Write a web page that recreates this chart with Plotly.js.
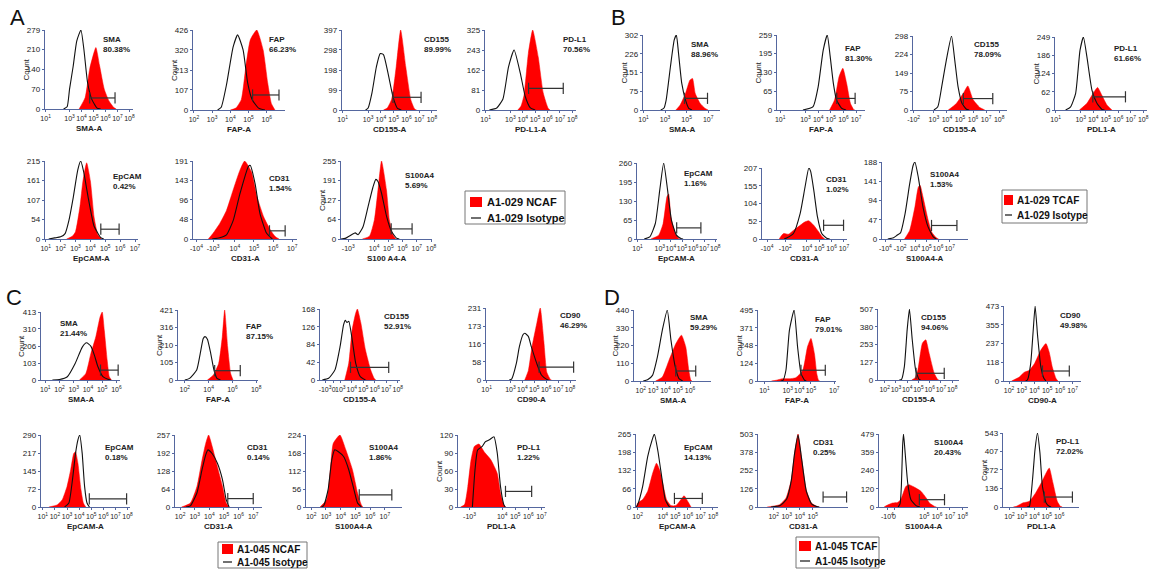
<!DOCTYPE html>
<html><head><meta charset="utf-8">
<script src="https://cdn.plot.ly/plotly-3.0.1.min.js"></script>
<style>html,body{margin:0;padding:0;background:#fff}#chart{width:1156px;height:571px}</style>
</head><body><div id="chart"></div>
<script>
// ---------------- DATA ----------------
// panel of each histogram (30 histograms: A1..A7, B1..B7, C1..C8, D1..D8)
const panelOf = ['A','A','A','A','A','A','A','B','B','B','B','B','B','B','C','C','C','C','C','C','C','C','D','D','D','D','D','D','D','D'];
const markers = ['SMA','FAP','CD155','PD-L1','EpCAM','CD31','S100A4',
  'SMA','FAP','CD155','PD-L1','EpCAM','CD31','S100A4',
  'SMA','FAP','CD155','CD90','EpCAM','CD31','S100A4','PD-L1',
  'SMA','FAP','CD155','CD90','EpCAM','CD31','S100A4','PD-L1'];
const percents = ['80.38%','66.23%','89.99%','70.56%','0.42%','1.54%','5.69%',
  '88.96%','81.30%','78.09%','61.66%','1.16%','1.02%','1.53%',
  '21.44%','87.15%','52.91%','46.29%','0.18%','0.14%','1.86%','1.22%',
  '59.29%','79.01%','94.06%','49.98%','14.13%','0.25%','20.43%','72.02%'];
const xTitles = ['SMA-A','FAP-A','CD155-A','PD-L1-A','EpCAM-A','CD31-A','S100 A4-A',
  'SMA-A','FAP-A','CD155-A','PDL1-A','EpCAM-A','CD31-A','S100A4-A',
  'SMA-A','FAP-A','CD155-A','CD90-A','EpCAM-A','CD31-A','S100A4-A','PDL1-A',
  'SMA-A','FAP-A','CD155-A','CD90-A','EpCAM-A','CD31-A','S100A4-A','PDL1-A'];
const yTicks = [[0,70,140,210,279],[0,107,213,320,426],[0,99,198,298,397],[0,81,162,243,325],[0,54,107,161,215],[0,48,96,143,191],[0,64,127,191,255],
  [0,75,151,226,302],[0,65,130,195,259],[0,75,149,224,298],[0,62,124,186,249],[0,65,130,195,260],[0,52,104,155,207],[0,47,94,141,188],
  [0,103,206,310,413],[0,105,210,316,421],[0,42,84,126,168],[0,58,116,173,231],[0,72,145,217,290],[0,64,128,192,257],[0,56,112,168,224],[0,30,60,90,120],
  [0,110,220,330,440],[0,124,248,371,495],[0,127,253,380,507],[0,118,237,355,473],[0,66,132,198,265],[0,126,252,378,503],[0,120,240,359,479],[0,136,272,407,543]];
// display scale (decades) shown on each x axis
const xRanges = [[0.95,8.3],[1.95,7.0],[0.95,8.4],[0.95,8.3],[0.95,7.2],[0,5.44],[0,6.4],
  [0.95,8.1],[0.75,7.7],[1.4,8.6],[0.95,8.3],[0.95,8.15],[0,6.9],[0,7.45],
  [0.7,6.25],[1.43,8.15],[0,6.95],[0.95,8.5],[0.85,8.2],[1.65,7.6],[1.65,8.16],[0,6.65],
  [1.45,7.7],[0.45,7.15],[1.41,8.6],[1.6,7.66],[1.87,8.4],[0.8,7.7],[0,6.97],[1.47,7.6]];
const xTickPos = [[1,3,4,5,6,7,8],[2,3,4,5,6],[1,3,4,5,6,7,8],[1,3,4,5,6,7,8],[1,2,3,4,5,6,7],[0.18,1.05,2.19,3.19,4.19,5.19],[0.51,2.33,3.33,4.33,5.33,6.33],
  [1,3,5,7],[1,3,4,5,6,7],[1.45,3,4,5,6,7,8],[1,3,4,5,6,7,8],[1,3,4,5,6,7,8],[0.41,1.89,3.65,4.65,5.65,6.65],[0.29,1.57,2.86,3.86,4.86,5.86],
  [1,2,3,4,5,6],[2,4,6,8],[0.44,1.18,1.76,2.76,3.76,4.76,5.76,6.76],[1,3,4,5,6,7,8],[1,2,3,4,5,6,7,8],[2,3,4,5,6,7],[2,3,4,5,6,7],[0.88,3.38,4.38,5.38,6.38],
  [2,3,4,5,6],[1,3,4,5,7],[2,3,4,5,6,7,8],[2,3,4,5,6,7],[2,4,5,6,7,8],[2,3,4,5],[0.66,1.18,3.55,4.55,5.55,6.55],[2,3,4,5,6]];
// tick labels; null = plain decades 10^n at the positions above
const xTickLab = [null,null,null,null,null,['-10^4','-10^3','10^4','10^5','10^6','10^7'],['-10^3','10^4','10^5','10^6','10^7','10^8'],
  null,null,['-10^2','10^3','10^4','10^5','10^6','10^7','10^8'],null,null,['-10^4','-10^2','10^4','10^5','10^6','10^7'],['-10^4','-10^2','10^4','10^5','10^6','10^7'],
  null,null,['-10^3','0','10^3','10^4','10^5','10^6','10^7','10^8'],null,null,null,null,['-10^3','10^4','10^5','10^6','10^7'],
  null,null,null,null,null,null,['-10^4','0','10^5','10^6','10^7','10^8'],null];
// sample histograms: [display position, count]
const redCurves = [
  [[3.8,0],[4.3,40],[4.7,145],[5.2,217],[5.5,155],[5.9,70],[6.3,28],[6.7,5],[6.9,0]],
  [[4.0,0],[4.3,10],[4.6,55],[4.85,230],[5.1,375],[5.45,426],[5.8,320],[6.05,145],[6.25,35],[6.45,0]],
  [[4.2,0],[4.5,10],[4.85,55],[5.2,215],[5.55,397],[5.95,215],[6.35,50],[6.65,5],[6.8,0]],
  [[3.6,0],[3.85,15],[4.1,60],[4.45,230],[4.8,325],[5.25,215],[5.65,70],[6.05,7],[6.2,0]],
  [[2.4,0],[2.8,8],[3.0,20],[3.3,90],[3.5,160],[3.75,210],[4.0,160],[4.25,60],[4.5,12],[4.75,0]],
  [[0.8,0],[1.05,14],[1.4,38],[1.75,70],[2.1,120],[2.45,168],[2.7,191],[3.05,165],[3.35,103],[3.7,54],[4.05,22],[4.3,6],[4.5,0]],
  [[1.5,0],[2.0,9],[2.35,63],[2.6,160],[2.85,255],[3.2,160],[3.4,63],[3.65,14],[3.85,0]],
  [[4.0,0],[4.4,20],[4.9,67],[5.3,120],[5.55,127],[5.8,67],[6.25,27],[6.7,7],[7.0,0]],
  [[4.9,0],[5.3,35],[5.65,115],[5.95,144],[6.25,92],[6.55,23],[6.8,2],[6.9,0]],
  [[4.1,0],[4.7,25],[5.25,67],[5.6,97],[6.0,42],[6.5,11],[6.9,0]],
  [[2.9,0],[3.5,23],[4.0,57],[4.35,77],[4.7,50],[5.1,17],[5.5,0]],
  [[2.2,0],[2.9,13],[3.3,53],[3.65,145],[3.8,154],[4.0,76],[4.4,18],[4.7,2],[4.85,0]],
  [[1.4,0],[1.5,6],[1.75,16],[2.15,14],[2.55,25],[3.1,40],[3.5,50],[3.8,53],[4.2,40],[4.6,21],[4.85,8],[5.1,0]],
  [[1.95,0],[2.4,21],[2.85,78],[3.15,127],[3.3,131],[3.55,103],[4.0,46],[4.3,17],[4.7,3],[4.9,0]],
  [[3.4,0],[3.85,40],[4.2,160],[4.55,262],[4.85,383],[5.0,413],[5.15,300],[5.35,120],[5.5,20],[5.65,0]],
  [[3.9,0],[4.4,30],[4.85,100],[5.15,260],[5.35,421],[5.6,200],[5.85,40],[6.05,0]],
  [[2.15,0],[2.5,40],[2.8,120],[3.1,158],[3.25,168],[3.55,135],[3.95,71],[4.4,24],[4.7,4],[4.85,0]],
  [[4.2,0],[4.5,30],[4.8,105],[5.2,180],[5.5,231],[5.8,125],[6.05,25],[6.35,2],[6.45,0]],
  [[1.5,0],[2.2,9],[2.6,29],[3.0,83],[3.3,150],[3.55,215],[3.7,223],[3.9,176],[4.15,70],[4.35,16],[4.55,0]],
  [[2.1,0],[2.7,14],[3.15,73],[3.5,168],[3.75,227],[3.95,257],[4.2,215],[4.55,144],[4.9,73],[5.15,14],[5.35,0]],
  [[2.6,0],[3.05,23],[3.3,116],[3.5,198],[3.95,224],[4.35,178],[4.8,116],[5.15,43],[5.4,7],[5.5,0]],
  [[0.2,0],[0.5,4],[0.75,34],[1.0,79],[1.25,101],[1.6,105],[2.0,92],[2.5,79],[3.0,56],[3.25,23],[3.5,4],[3.65,0]],
  [[3.2,0],[3.75,25],[4.3,130],[4.85,232],[5.3,284],[5.65,212],[5.9,66],[6.05,8],[6.15,0]],
  [[1.6,0],[2.0,5],[2.55,16],[3.15,16],[3.7,23],[4.3,75],[4.7,238],[5.0,297],[5.3,190],[5.5,51],[5.65,5],[5.75,0]],
  [[4.4,0],[4.7,15],[4.95,72],[5.35,263],[5.65,287],[5.95,190],[6.4,48],[6.7,5],[6.8,0]],
  [[2.2,0],[2.8,25],[3.2,55],[3.6,68],[4.0,110],[4.5,195],[4.9,236],[5.15,184],[5.4,89],[5.7,15],[5.85,0]],
  [[1.9,0],[2.0,14],[2.4,27],[2.8,57],[3.2,123],[3.5,159],[3.75,135],[4.0,87],[4.3,27],[4.65,5],[5.05,5],[5.45,27],[5.7,41],[6.0,20],[6.25,0]],
  [[1.5,0],[2.45,16],[2.95,62],[3.35,187],[3.6,370],[3.87,503],[4.13,347],[4.5,119],[4.9,27],[5.3,5],[5.5,0]],
  [[0.4,0],[0.55,8],[1.05,26],[1.45,30],[1.7,48],[2.1,135],[2.35,146],[2.9,124],[3.3,102],[3.7,59],[3.95,26],[4.35,4],[4.5,0]],
  [[2.3,0],[2.55,5],[3.05,29],[3.6,42],[4.1,103],[4.55,176],[4.95,250],[5.2,286],[5.5,176],[5.85,42],[6.1,5],[6.25,0]]
];
const isoCurves = [
  [[2.5,0],[2.8,8],[3.0,70],[3.3,150],[3.6,240],[3.95,279],[4.2,210],[4.5,95],[4.85,35],[5.3,3],[5.6,0]],
  [[3.3,0],[3.5,15],[3.8,140],[4.15,335],[4.4,400],[4.7,320],[4.95,145],[5.2,55],[5.55,10],[5.9,0]],
  [[2.8,0],[3.0,10],[3.3,85],[3.65,215],[3.95,280],[4.2,275],[4.55,185],[4.95,65],[5.3,8],[5.6,0]],
  [[1.3,0],[1.9,8],[2.4,45],[2.85,175],[3.3,244],[3.8,150],[4.2,55],[4.6,10],[5.0,0]],
  [[1.2,0],[1.6,3],[2.0,6],[2.3,15],[2.55,50],[2.85,115],[3.15,190],[3.35,215],[3.55,185],[3.85,115],[4.25,35],[4.7,4],[4.9,0]],
  [[1.0,0],[1.4,3],[1.75,10],[2.1,45],[2.45,110],[2.9,178],[3.0,180],[3.25,135],[3.5,63],[3.85,14],[4.15,0]],
  [[0.0,0],[0.3,2],[0.75,14],[1.0,20],[1.2,14],[1.55,40],[1.9,105],[2.25,170],[2.45,195],[2.6,188],[2.85,150],[3.2,75],[3.55,25],[3.9,3],[4.1,0]],
  [[2.6,0],[2.9,8],[3.1,40],[3.5,175],[3.85,282],[4.05,302],[4.25,228],[4.55,107],[4.9,40],[5.2,7],[5.5,0]],
  [[2.8,0],[3.6,12],[4.0,80],[4.4,207],[4.72,259],[4.95,185],[5.2,92],[5.45,35],[5.85,6],[6.2,0]],
  [[3.0,0],[3.3,13],[3.6,94],[3.95,200],[4.35,298],[4.6,200],[4.85,94],[5.15,27],[5.5,3],[5.7,0]],
  [[1.8,0],[2.2,11],[2.6,57],[2.95,204],[3.22,249],[3.5,181],[3.9,68],[4.3,23],[4.7,2],[4.9,0]],
  [[1.6,0],[2.1,7],[2.6,53],[3.0,168],[3.35,260],[3.7,168],[4.05,64],[4.5,13],[4.95,1],[5.1,0]],
  [[1.8,0],[2.0,3],[2.55,16],[3.1,75],[3.5,153],[3.8,207],[3.95,197],[4.2,143],[4.5,65],[4.85,16],[5.25,2],[5.5,0]],
  [[0.5,0],[1.0,3],[1.3,9],[1.6,15],[2.0,62],[2.4,135],[2.7,180],[2.85,188],[3.15,150],[3.55,78],[4.0,29],[4.45,5],[4.7,0]],
  [[1.5,0],[2.0,3],[2.55,20],[3.1,100],[3.6,200],[3.9,226],[4.2,206],[4.45,151],[4.7,80],[5.05,20],[5.4,4],[5.6,0]],
  [[2.0,0],[2.4,10],[3.0,60],[3.3,160],[3.55,250],[3.7,261],[3.9,245],[4.15,170],[4.45,60],[4.7,10],[5.0,0]],
  [[0.2,0],[0.75,4],[1.3,24],[1.75,80],[2.05,131],[2.2,141],[2.35,136],[2.5,139],[2.8,95],[3.1,40],[3.5,8],[3.95,0]],
  [[2.9,0],[3.1,3],[3.5,54],[3.75,107],[4.05,145],[4.2,150],[4.5,140],[4.75,107],[5.2,54],[5.6,16],[6.05,2],[6.2,0]],
  [[2.8,0],[3.15,16],[3.45,110],[3.7,215],[3.9,270],[4.05,290],[4.25,217],[4.45,83],[4.65,16],[4.85,0]],
  [[2.4,0],[2.7,4],[3.15,50],[3.5,133],[3.75,186],[3.9,204],[4.2,190],[4.55,156],[4.9,97],[5.15,26],[5.35,0]],
  [[2.7,0],[2.85,4],[3.15,54],[3.4,147],[3.6,178],[3.85,172],[4.2,157],[4.55,116],[4.9,54],[5.15,12],[5.4,0]],
  [[1.1,0],[1.3,62],[1.5,95],[1.85,101],[2.1,109],[2.4,112],[2.75,117],[3.0,90],[3.25,34],[3.5,4],[3.6,0]],
  [[2.2,0],[2.55,8],[2.95,35],[3.35,150],[3.75,315],[4.15,440],[4.45,253],[4.8,87],[5.1,15],[5.4,0]],
  [[2.4,0],[2.6,5],[2.85,75],[3.15,355],[3.55,495],[3.85,238],[4.15,51],[4.45,5],[4.6,0]],
  [[3.3,0],[3.5,5],[3.75,96],[4.0,360],[4.2,507],[4.45,287],[4.75,72],[5.05,5],[5.2,0]],
  [[3.3,0],[3.45,8],[3.7,110],[3.9,320],[4.05,473],[4.25,280],[4.5,89],[4.75,15],[4.9,0]],
  [[1.9,0],[2.0,8],[2.4,75],[2.8,183],[3.15,243],[3.33,265],[3.6,207],[3.95,99],[4.2,27],[4.5,2],[4.6,0]],
  [[1.8,0],[2.5,10],[3.0,55],[3.35,180],[3.6,365],[3.87,495],[4.13,340],[4.5,110],[4.9,22],[5.3,3],[5.5,0]],
  [[1.5,0],[1.65,20],[1.75,135],[1.85,400],[1.92,479],[2.05,353],[2.25,157],[2.5,48],[2.9,9],[3.2,0]],
  [[3.4,0],[3.6,5],[3.85,200],[4.05,420],[4.25,543],[4.45,396],[4.65,152],[4.95,29],[5.2,5],[5.35,0]]
];
// positive gate: [from, to, count level]
const gates = [[4.68,6.8,39],[5.22,6.67,80],[4.95,7.15,63],[4.47,7.27,88],[4.7,5.93,27],[4.0,4.82,20],[3.53,5.0,33],
  [4.8,6.94,47],[5.47,6.92,40],[5.26,7.51,46],[3.97,6.58,45],[4.52,6.7,38],[5.0,6.62,40],[4.29,6.49,33],
  [4.88,6.12,60],[4.51,6.66,56],[2.65,5.97,30],[5.4,8.3,41],[4.84,7.92,33],[5.26,7.0,30],[5.26,7.47,38],[3.63,5.63,26],
  [4.84,6.46,62],[4.14,6.23,75],[4.79,7.29,48],[4.63,6.74,63],[4.93,7.15,31],[5.79,7.59,69],[3.16,5.13,48],[4.8,7.07,73]];
const legendNames = [['A1-029 NCAF','A1-029 Isotype'],['A1-029 TCAF','A1-029 Isotype'],['A1-045 NCAF','A1-045 Isotype'],['A1-045 TCAF','A1-045 Isotype']];
const panelLetters = ['A','B','C','D'];

// ---------------- LAYOUT CONFIG (pixels) ----------------
const W = 1156, H = 571;
// plot boxes [left, right, top, bottom]
const boxes = [[45,133,30,109],[193,285,30,110],[342,437,30,110],[485,576,30,110],[45,138,161,239],[193,297,161,239],[341,432,161,239],
  [643,720,35,110],[777,865,35,110],[913,1007,36,110],[1055,1147,37,110],[637,717,163,239],[762,847,168,239],[882,968,162,239],
  [41,120,312,380],[178,258,310,380],[320,400,309,380],[486,576,308,380],[41,130,435,507],[175,262,435,507],[306,402,435,507],[458,545,435,507],
  [634,711,310,381],[758,836,310,381],[878,959,309,380],[1004,1081,306,381],[636,718,434,507],[758,848,434,507],[879,968,434,507],[1003,1079,433,507]];
const labelPos = [[0.64,0.96],[0.8,0.96],[0.84,0.96],[0.84,0.96],[0.71,0.88],[0.71,0.86],[0.68,0.9],
  [0.6,0.96],[0.75,0.91],[0.63,0.97],[0.62,0.93],[0.56,0.95],[0.73,0.93],[0.54,0.92],
  [0.21,0.93],[0.83,0.86],[0.77,0.99],[0.8,0.98],[0.7,0.91],[0.8,0.91],[0.64,0.91],[0.66,0.91],
  [0.7,0.98],[0.7,0.96],[0.51,0.97],[0.7,0.96],[0.56,0.9],[0.59,0.97],[0.6,0.97],[0.67,0.97]];
const hasCount = [1,1,0,0,0,0,1, 1,1,0,1,0,0,0, 1,1,0,0,0,0,0,1, 1,1,0,0,0,0,0,1];
const legendCfg = [
  {box:[465,191,565,224], rows:[202,218], sq:[470,482], tx:485, fs:11},
  {box:[1002,190,1087,223], rows:[200,215], sq:[1004,1013], tx:1015, fs:10},
  {box:[218,542,307,568], rows:[549,562], sq:[222,233], tx:235, fs:10},
  {box:[796,537,879,568], rows:[546,561], sq:[799,811], tx:813, fs:10}];
const letterPos = [[17,18],[618,18],[14,297],[612,297]];

const FONT = 'Liberation Sans, Arial, sans-serif';
const RED = '#ff0000', AXIS = '#55679f', INK = '#222';
const fmt = s => s.replace(/\^(\d+)/, '<sup>$1</sup>');
const px = x => x / W, py = y => 1 - y / H;
const fnt = (size, bold, color) => ({family: FONT, size: size, color: color || INK, weight: bold ? 'bold' : 'normal'});

const traces = [];
const layout = {width: W, height: H, margin: {l:0, r:0, t:0, b:0}, paper_bgcolor: '#fff', plot_bgcolor: 'rgba(0,0,0,0)',
  showlegend: false, font: fnt(8, false), annotations: [], shapes: []};

for (let i = 0; i < markers.length; i++) {
  const k = i + 1, sfx = k > 1 ? String(k) : '';
  const xa = 'x' + sfx, ya = 'y' + sfx;
  const [l, r, t, b] = boxes[i];
  const labs = xTickLab[i] || xTickPos[i].map(p => '10^' + p);
  layout['xaxis' + sfx] = {domain: [px(l), px(r)], anchor: ya, range: xRanges[i], tickmode: 'array',
    tickvals: xTickPos[i], ticktext: labs.map(fmt), tickangle: 0, showgrid: false, zeroline: false, showline: true,
    linecolor: AXIS, linewidth: 1.3, ticks: 'outside', ticklen: 2, tickcolor: AXIS, tickwidth: 1,
    tickfont: fnt(7, false), fixedrange: true};
  layout['yaxis' + sfx] = {domain: [py(b), py(t)], anchor: xa, range: [0, yTicks[i][4]], tickmode: 'array',
    tickvals: yTicks[i], ticktext: yTicks[i].map(String), tickangle: 0, showgrid: false, zeroline: false, showline: true,
    linecolor: AXIS, linewidth: 1.3, ticks: 'outside', ticklen: 2, tickcolor: AXIS, tickwidth: 1,
    tickfont: fnt(8, false), fixedrange: true};
  const red = redCurves[i], iso = isoCurves[i], g = gates[i];
  traces.push({type: 'scatter', mode: 'lines', xaxis: xa, yaxis: ya, x: red.map(p => p[0]), y: red.map(p => p[1]),
    line: {shape: 'spline', smoothing: 0.5, color: RED, width: 0.5}, fill: 'tozeroy', fillcolor: RED,
    name: legendNames[panelLetters.indexOf(panelOf[i])][0], hoverinfo: 'skip'});
  traces.push({type: 'scatter', mode: 'lines', xaxis: xa, yaxis: ya, x: iso.map(p => p[0]), y: iso.map(p => p[1]),
    line: {shape: 'spline', smoothing: 0.5, color: '#111', width: 1.1},
    name: legendNames[panelLetters.indexOf(panelOf[i])][1], hoverinfo: 'skip'});
  traces.push({type: 'scatter', mode: 'lines+markers', xaxis: xa, yaxis: ya, x: [g[0], g[1]], y: [g[2], g[2]],
    line: {color: '#333', width: 1.2}, marker: {symbol: 'line-ns-open', size: 8, line: {color: '#333', width: 1.2}},
    hoverinfo: 'skip', cliponaxis: false});
  layout.annotations.push({xref: xa + ' domain', yref: ya + ' domain', x: labelPos[i][0], y: labelPos[i][1],
    xanchor: 'left', yanchor: 'top', align: 'left', showarrow: false,
    text: markers[i] + '<br>' + percents[i], font: fnt(8, true)});
  layout.annotations.push({xref: xa + ' domain', yref: ya + ' domain', x: 0.5, y: 0, yshift: -13,
    xanchor: 'center', yanchor: 'top', showarrow: false, text: xTitles[i], font: fnt(8, true)});
  if (hasCount[i]) layout.annotations.push({xref: xa + ' domain', yref: ya + ' domain', x: 0, xshift: -19, y: 0.5,
    xanchor: 'center', yanchor: 'middle', textangle: -90, showarrow: false, text: 'Count', font: fnt(8, false)});
}

// panel letters
panelLetters.forEach((p, j) => layout.annotations.push({xref: 'paper', yref: 'paper', x: px(letterPos[j][0]), y: py(letterPos[j][1]),
  xanchor: 'center', yanchor: 'middle', showarrow: false, text: p, font: fnt(22, false, '#111')}));

// legends (boxes)
legendCfg.forEach((c, j) => {
  const [x0, y0, x1, y1] = c.box;
  layout.shapes.push({type: 'rect', xref: 'paper', yref: 'paper', x0: px(x0), x1: px(x1), y0: py(y1), y1: py(y0),
    line: {color: '#777', width: 1}, fillcolor: 'rgba(0,0,0,0)'});
  layout.shapes.push({type: 'rect', xref: 'paper', yref: 'paper', x0: px(c.sq[0]), x1: px(c.sq[1]),
    y0: py(c.rows[0] + 5), y1: py(c.rows[0] - 5), line: {width: 0}, fillcolor: RED});
  layout.shapes.push({type: 'line', xref: 'paper', yref: 'paper', x0: px(c.sq[0] + 1), x1: px(c.sq[1] - 1),
    y0: py(c.rows[1]), y1: py(c.rows[1]), line: {color: '#111', width: 1.2}});
  legendNames[j].forEach((nm, r) => layout.annotations.push({xref: 'paper', yref: 'paper', x: px(c.tx), y: py(c.rows[r]),
    xanchor: 'left', yanchor: 'middle', showarrow: false, text: nm, font: fnt(c.fs, true, '#111')}));
});

Plotly.newPlot('chart', traces, layout, {staticPlot: true, displayModeBar: false});
</script></body></html>
